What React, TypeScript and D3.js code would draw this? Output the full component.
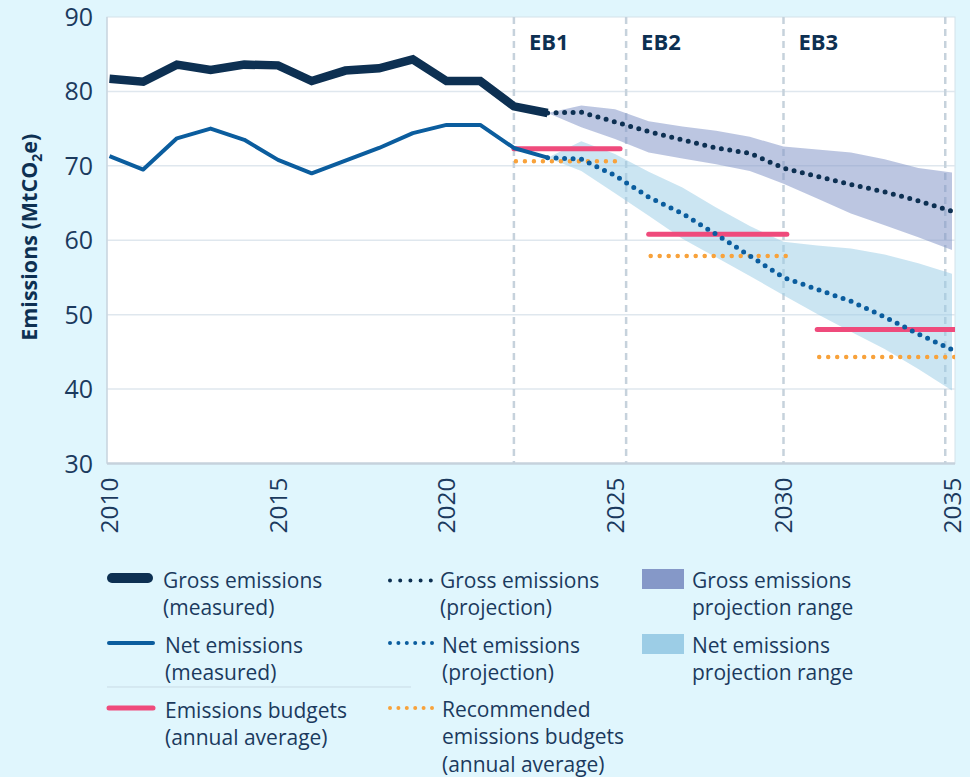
import React from "react";
import * as d3 from "d3";

const measuredYears = [2010, 2011, 2012, 2013, 2014, 2015, 2016, 2017, 2018, 2019, 2020, 2021, 2022, 2023];
const grossMeasured = [81.7, 81.3, 83.6, 82.9, 83.6, 83.5, 81.4, 82.8, 83.1, 84.3, 81.4, 81.4, 78.0, 77.1];
const netMeasured = [71.3, 69.5, 73.7, 75.0, 73.5, 70.8, 69.0, 70.7, 72.4, 74.4, 75.5, 75.5, 72.4, 71.1];

const projYears = [2023, 2024, 2025, 2026, 2027, 2028, 2029, 2030, 2031, 2032, 2033, 2034, 2035];
const grossProj = [77.1, 77.2, 75.9, 74.6, 73.5, 72.4, 71.7, 69.7, 68.6, 67.5, 66.5, 65.3, 63.9];
const grossUpper = [77.1, 78.1, 77.6, 76.0, 75.3, 74.7, 73.9, 72.6, 72.2, 71.8, 70.9, 69.7, 69.1];
const grossLower = [77.1, 75.2, 73.6, 71.8, 71.0, 70.2, 69.3, 67.6, 65.6, 63.6, 62.0, 60.4, 58.7];
const netProj = [71.1, 70.9, 68.7, 65.8, 63.6, 60.8, 57.9, 55.0, 53.4, 51.8, 49.7, 47.4, 45.3];
const netUpper = [71.1, 73.3, 71.6, 69.2, 67.1, 64.4, 61.9, 59.8, 59.3, 58.9, 58.1, 56.9, 55.5];
const netLower = [71.1, 69.3, 66.3, 63.3, 60.2, 57.7, 55.2, 52.6, 50.1, 47.7, 45.4, 42.7, 39.8];

const budgetNames = ["EB1", "EB2", "EB3"];
const budgetStart = [2022, 2026, 2031];
const budgetEnd = [2025.15, 2030.1, 2035.2];
const budgetValues = [72.3, 60.8, 48.0];
const recommendedValues = [70.6, 57.9, 44.3];
const periodBoundaries = [2022, 2025.33, 2030, 2034.8];

const yTicks = [30, 40, 50, 60, 70, 80, 90];
const xTicks = [2010, 2015, 2020, 2025, 2030, 2035];

const C = {
  bg: "#e0f6fd",
  navy: "#0d3052",
  blue: "#0b5d9e",
  pink: "#ef4b7c",
  orange: "#f8a23b",
  grossBand: "#8598c8",
  netBand: "#9ccde6",
  grid: "#dfe7ee",
  axis: "#c6d2dc",
  text: "#1b3a5e",
};

const FONT = "'Open Sans', 'Noto Sans', sans-serif";

export default function App() {
  const W = 970;
  const H = 777;
  const plot = { left: 107, right: 955, top: 17, bottom: 463.5 };
  const x = d3.scaleLinear().domain([2010, 2035]).range([109.5, 952]);
  const y = d3.scaleLinear().domain([30, 90]).range([plot.bottom, plot.top]);

  const line = d3
    .line<[number, number]>()
    .x((d) => x(d[0]))
    .y((d) => y(d[1]));
  const area = d3
    .area<[number, number, number]>()
    .x((d) => x(d[0]))
    .y0((d) => y(d[1]))
    .y1((d) => y(d[2]));

  const gm = measuredYears.map((yr, i) => [yr, grossMeasured[i]] as [number, number]);
  const nm = measuredYears.map((yr, i) => [yr, netMeasured[i]] as [number, number]);
  const gp = projYears.map((yr, i) => [yr, grossProj[i]] as [number, number]);
  const np = projYears.map((yr, i) => [yr, netProj[i]] as [number, number]);
  const gb = projYears.map((yr, i) => [yr, grossLower[i], grossUpper[i]] as [number, number, number]);
  const nb = projYears.map((yr, i) => [yr, netLower[i], netUpper[i]] as [number, number, number]);

  const dotted = (color: string, gap: number, w = 4.5) => ({
    fill: "none",
    stroke: color,
    strokeWidth: w,
    strokeLinecap: "round" as const,
    strokeDasharray: `0 ${gap}`,
  });

  const legendText = (lines: string[], tx: number, by: number) => (
    <text x={tx} y={by} fontFamily={FONT} fontSize={21} fill={C.text}>
      {lines.map((l, i) => (
        <tspan key={i} x={tx} dy={i === 0 ? 0 : 27.3}>
          {l}
        </tspan>
      ))}
    </text>
  );

  return (
    <svg
      width={W}
      height={H}
      style={{ position: "absolute", left: 0, top: 0, background: C.bg, display: "block" }}
    >
      <defs>
        <clipPath id="plotClip">
          <rect x={plot.left} y={plot.top} width={plot.right - plot.left} height={plot.bottom - plot.top} />
        </clipPath>
      </defs>
      <rect x={0} y={0} width={W} height={H} fill={C.bg} />
      <rect
        x={plot.left}
        y={plot.top}
        width={plot.right - plot.left}
        height={plot.bottom - plot.top}
        fill="#fff"
        stroke="#d3e2ea"
        strokeWidth={1}
      />
      {yTicks
        .filter((t) => t > 30 && t < 90)
        .map((t) => (
          <line key={t} x1={plot.left} x2={plot.right} y1={y(t)} y2={y(t)} stroke={C.grid} strokeWidth={1.5} />
        ))}
      {periodBoundaries.map((b) => (
        <line
          key={b}
          x1={x(b)}
          x2={x(b)}
          y1={plot.top}
          y2={plot.bottom}
          stroke={C.axis}
          strokeWidth={2.5}
          strokeDasharray="7 5"
        />
      ))}
      <g clipPath="url(#plotClip)">
        <path d={area(gb) || ""} fill={C.grossBand} fillOpacity={0.55} />
        <path d={area(nb) || ""} fill={C.netBand} fillOpacity={0.52} />
        {budgetNames.map((n, i) => (
          <g key={n}>
            <line
              x1={x(budgetStart[i])}
              x2={x(budgetEnd[i])}
              y1={y(budgetValues[i])}
              y2={y(budgetValues[i])}
              stroke={C.pink}
              strokeWidth={5}
              strokeLinecap="round"
            />
            <line
              x1={x(budgetStart[i]) + 2}
              x2={x(budgetEnd[i])}
              y1={y(recommendedValues[i])}
              y2={y(recommendedValues[i])}
              {...dotted(C.orange, 9, 4.5)}
            />
          </g>
        ))}
        <path d={line(nm) || ""} fill="none" stroke={C.blue} strokeWidth={4} strokeLinejoin="round" />
        <path d={line(gm) || ""} fill="none" stroke={C.navy} strokeWidth={8.5} strokeLinejoin="miter" />
        <path d={line(gp) || ""} {...dotted(C.navy, 8.5, 5)} />
        <path d={line(np) || ""} {...dotted(C.blue, 8.5, 5)} />
      </g>
      <line x1={plot.left} x2={plot.left} y1={plot.top} y2={plot.bottom} stroke={C.axis} strokeWidth={1.2} />
      <line x1={plot.left} x2={plot.right} y1={plot.bottom} y2={plot.bottom} stroke={C.axis} strokeWidth={2.5} />
      {yTicks.map((t) => (
        <text
          key={t}
          x={93}
          y={y(t)}
          dy="0.36em"
          textAnchor="end"
          fontFamily={FONT}
          fontSize={25}
          fill={C.text}
        >
          {t}
        </text>
      ))}
      {xTicks.map((t) => (
        <text
          key={t}
          transform={`translate(${x(t)},${plot.bottom + 14}) rotate(-90)`}
          dy="0.36em"
          textAnchor="end"
          fontFamily={FONT}
          fontSize={24.5}
          fill={C.text}
        >
          {t}
        </text>
      ))}
      <text
        transform={`translate(37,${(plot.top + plot.bottom) / 2 - 3}) rotate(-90)`}
        textAnchor="middle"
        fontFamily={FONT}
        fontSize={21.5}
        fontWeight={700}
        fill={C.navy}
      >
        Emissions (MtCO
        <tspan fontSize={14} dy={5}>
          2
        </tspan>
        <tspan dy={-5}>e)</tspan>
      </text>
      {budgetNames.map((n, i) => (
        <text
          key={n}
          x={x(periodBoundaries[i]) + 15}
          y={50}
          fontFamily={FONT}
          fontSize={22}
          fontWeight={700}
          fill={C.navy}
        >
          {n}
        </text>
      ))}
      <g>
        <line x1={112} x2={148} y1={578} y2={578} stroke={C.navy} strokeWidth={10} strokeLinecap="round" />
        {legendText(["Gross emissions", "(measured)"], 163, 588)}
        <line x1={109} x2={153} y1={643} y2={643} stroke={C.blue} strokeWidth={4} strokeLinecap="round" />
        {legendText(["Net emissions", "(measured)"], 165, 653)}
        <line x1={107} x2={411} y1={687} y2={687} stroke="#c9dbe5" strokeWidth={1} />
        <line x1={109} x2={153} y1={708} y2={708} stroke={C.pink} strokeWidth={5} strokeLinecap="round" />
        {legendText(["Emissions budgets", "(annual average)"], 165, 718)}

        <line x1={390} x2={431} y1={580.5} y2={580.5} {...dotted(C.navy, 10.2, 4)} />
        {legendText(["Gross emissions", "(projection)"], 440, 588)}
        <line x1={390} x2={432} y1={643} y2={643} {...dotted(C.blue, 8.4, 4)} />
        {legendText(["Net emissions", "(projection)"], 442, 653)}
        <line x1={390} x2={432} y1={708} y2={708} {...dotted(C.orange, 8.4, 4)} />
        {legendText(["Recommended", "emissions budgets", "(annual average)"], 442, 717)}

        <rect x={642} y={569} width={42} height={20} fill={C.grossBand} />
        {legendText(["Gross emissions", "projection range"], 692, 588)}
        <rect x={642} y={634} width={42} height={20} fill={C.netBand} />
        {legendText(["Net emissions", "projection range"], 692, 653)}
      </g>
    </svg>
  );
}
